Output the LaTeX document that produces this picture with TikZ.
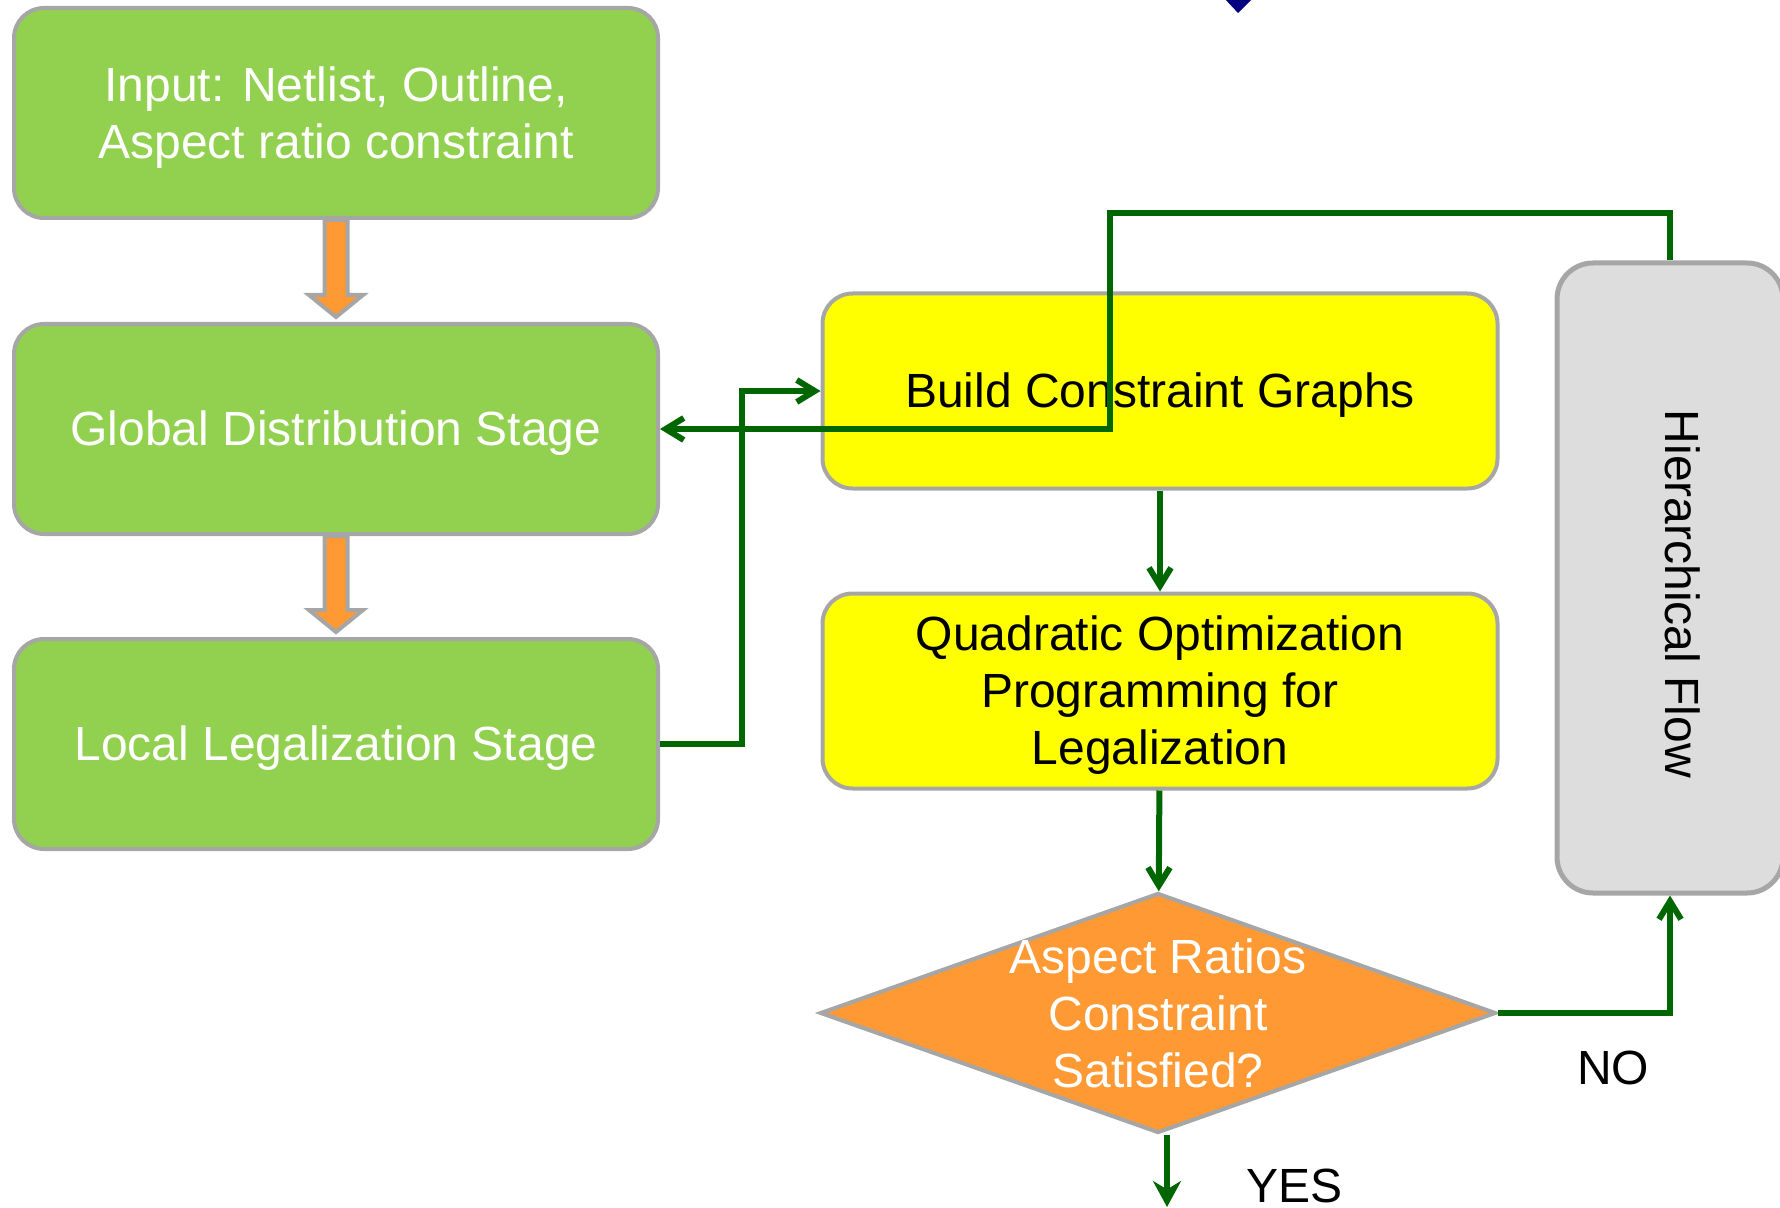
\documentclass[tikz,border=0pt]{standalone}
\usepackage{fontspec}
\setmainfont{Liberation Sans}
\usetikzlibrary{shapes.geometric,arrows.meta,calc}
\definecolor{stagegreen}{RGB}{146,208,80}
\definecolor{taskyellow}{RGB}{255,255,0}
\definecolor{linegreen}{RGB}{0,102,0}
\definecolor{boxgray}{RGB}{166,166,166}
\definecolor{flowgray}{RGB}{221,221,221}
\definecolor{decorange}{RGB}{255,153,51}
\definecolor{tipblue}{RGB}{0,0,128}
\newcommand\topstrut{\rule{0pt}{0.905em}}
\newcommand\botstrut{\rule[-0.212em]{0pt}{0pt}}

\begin{document}
\begin{tikzpicture}[x=0.5pt,y=-0.5pt,
  every node/.style={font=\fontsize{24}{28.5}\selectfont},
  stage/.style={draw=boxgray, line width=2pt, fill=stagegreen, rounded corners=15pt,
    minimum width=322pt, minimum height=105pt, text=white, align=center},
  task/.style={draw=boxgray, line width=2pt, fill=taskyellow, rounded corners=15pt,
    minimum width=337.5pt, minimum height=97.5pt, align=center},
  flow/.style={draw=linegreen, line width=3pt, -{Straight Barb[length=9pt,width=11pt]}},
  stagearrow/.style={draw=boxgray, line width=2pt, fill=decorange}]
\useasboundingbox (0,0) rectangle (1780,1208);

\fill[tipblue] (1224,-2) -- (1253,-2) -- (1238,13) -- cycle;

\node[stage] (input)  at (336,113) {\topstrut Input: Netlist, Outline,\\Aspect ratio constraint\botstrut};
\node[stage] (global) at (336,429) {\topstrut Global Distribution Stage\botstrut};
\node[stage] (local)  at (336,744) {\topstrut Local Legalization Stage\botstrut};

\node[task] (build) at (1160,391) {\topstrut Build Constraint Graphs\botstrut};
\node[task] (quad)  at (1160,691) {\topstrut Quadratic Optimization\\Programming for\\Legalization\botstrut};
\node[diamond, draw=boxgray, line width=2pt, fill=decorange, inner sep=0pt,
  minimum width=338pt, minimum height=120pt,
  label={[text=white, align=center]center:Aspect Ratios\\Constraint\\Satisfied?}] (check) at (1158,1013) {};

\node[draw=boxgray, line width=2.5pt, fill=flowgray, rounded corners=18pt,
  minimum width=113pt, minimum height=315pt] (hier) at (1670,578) {};
\node[rotate=-90] (hiertext) at (1683,594) {Hierarchical Flow};

\foreach \a/\b in {input/global, global/local}
  \draw[stagearrow] (\a.south) ++(-11.5,0) -- ++(23,0) -- ($(\b.north)+(11.5,-27)$)
    -- ($(\b.north)+(27,-27)$) -- ($(\b.north)+(0,-5)$) -- ($(\b.north)+(-27,-27)$)
    -- ($(\b.north)+(-11.5,-27)$) -- cycle;

\draw[flow] (local.east) -- ++(82,0) |- (build.west);
\draw[flow] (hier.north) -- ++(0,-47) -| ($(global.east)+(450,0)$) -- (global.east);
\draw[flow] (build) -- (quad);
\draw[flow] (quad) -- (check);
\draw[flow] (check.east) -| (hier.south);

\coordinate (exit) at (1167,1207);
\draw[draw=linegreen, line width=2.6pt, -{Stealth[length=13pt,width=14pt]}]
  (check.south -| exit) -- (exit);

\node (no)  at (1613,1068) {NO};
\node[inner sep=0pt] (yes) at (1294,1186) {YES};
\end{tikzpicture}
\end{document}
